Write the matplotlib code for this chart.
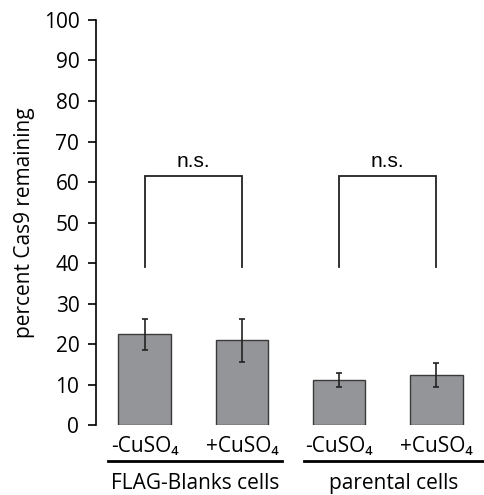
import matplotlib
matplotlib.use('Agg')
import matplotlib.pyplot as plt
import matplotlib.transforms as mtransforms
import numpy as np

from matplotlib import rcParams
rcParams.update({'font.family': ['Open Sans', 'DejaVu Sans'], 'font.size': 15})

# --- data --- #
conditions = ['-CuSO\u2084', '+CuSO\u2084', '-CuSO\u2084', '+CuSO\u2084']
values = [22.4, 20.9, 11.1, 12.3]
errors = [3.8, 5.3, 1.8, 3.0]
groups = ['FLAG-Blanks cells', 'parental cells']
pairs = [(0, 1), (2, 3)]
sig_labels = ['n.s.', 'n.s.']
bracket_top = 61.6
bracket_bottom = 38.9

fig = plt.figure(figsize=(4.85, 4.95), dpi=100)
ax = fig.add_axes([0.198, 0.1414, 0.802, 0.8182])

x = np.arange(len(values))
ax.bar(x, values, width=0.54, color='#939598', edgecolor='#3a3a3a', linewidth=1.0)
ax.errorbar(x, values, yerr=errors, fmt='none', ecolor='#222222', elinewidth=1.2,
            capsize=2.5, capthick=1.2)

# significance brackets
for (a, b), lab in zip(pairs, sig_labels):
    ax.plot([a, a, b, b], [bracket_bottom, bracket_top, bracket_top, bracket_bottom],
            color='#222222', lw=1.3, solid_joinstyle='miter')
    ax.text((a + b) / 2, bracket_top + 1.2, lab, ha='center', va='bottom',
            fontsize=15, family='Liberation Sans')

ax.set_xlim(-0.5, 3.5)
ax.set_ylim(0, 100)
ax.set_yticks(np.arange(0, 101, 10))
ax.set_xticks(x)
ax.set_xticklabels(conditions)
ax.tick_params(axis='x', length=0, pad=8)
ax.tick_params(axis='y', length=6, width=1.2, direction='out', pad=6)
for s in ['top', 'right', 'bottom']:
    ax.spines[s].set_visible(False)
ax.spines['left'].set_linewidth(1.2)
ax.set_ylabel('percent Cas9 remaining', labelpad=6)

# group underlines and labels
trans = mtransforms.blended_transform_factory(ax.transData, fig.transFigure)
group_spans = [(-0.38, 1.415), (1.64, 3.49)]
for (x0, x1), g in zip(group_spans, groups):
    ax.plot([x0, x1], [0.069, 0.069], transform=trans, color='black', lw=2,
            clip_on=False)
    ax.text((x0 + x1) / 2, 0.024, g, transform=trans, ha='center', va='center')

fig.savefig('out.png', dpi=100)
